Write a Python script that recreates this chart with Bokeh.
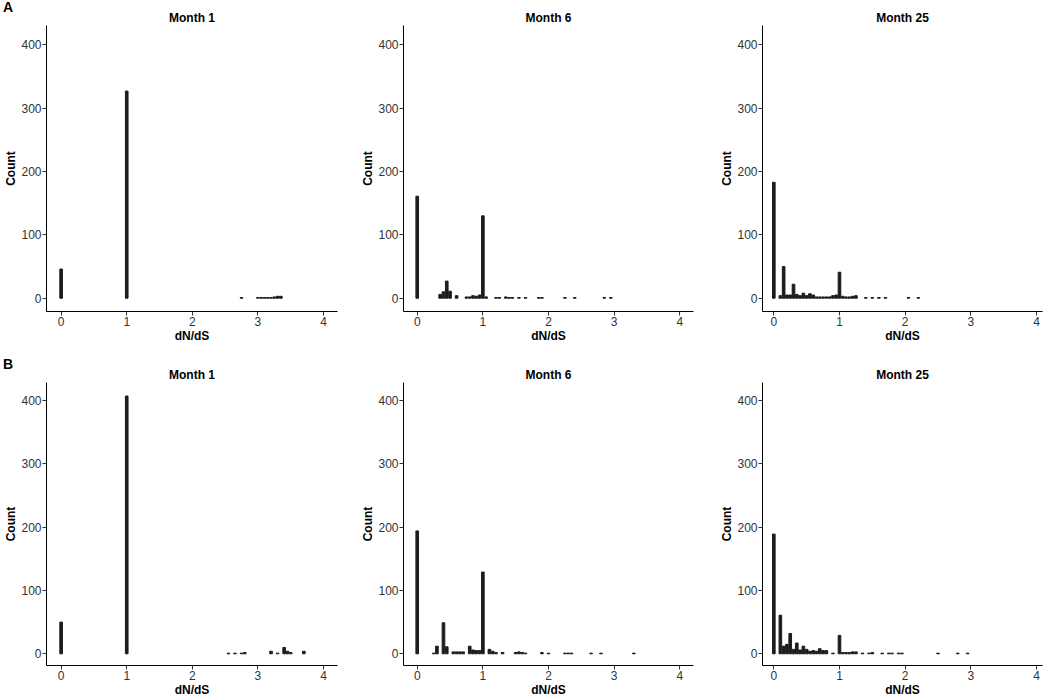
from bokeh.plotting import figure
from bokeh.layouts import column, row
from bokeh.models import Range1d, FixedTicker, Title, Div
from bokeh.embed import file_html
from bokeh.resources import INLINE

# ---------------- data (dN/dS histogram, binwidth 0.05) ----------------
titles = ["Month 1", "Month 6", "Month 25"]
row_tags = ["A", "B"]
x_ticks = [0, 1, 2, 3, 4]
y_ticks = [0, 100, 200, 300, 400]
bin_width = 0.05

a_m1_x = [0.0, 1.0, 2.75, 3.0, 3.05, 3.1, 3.15, 3.2, 3.25, 3.3, 3.35]
a_m1_n = [46, 327, 1, 1, 1, 1, 1, 1, 2, 3, 3]

a_m6_x = [0.0, 0.35, 0.4, 0.45, 0.5, 0.6, 0.75, 0.8, 0.85, 0.9, 0.95, 1.0, 1.05,
          1.2, 1.25, 1.35, 1.4, 1.45, 1.55, 1.65, 1.85, 1.9, 2.25, 2.4, 2.85, 2.95]
a_m6_n = [161, 6, 10, 27, 11, 4, 2, 2, 4, 3, 5, 130, 2,
          1, 1, 2, 1, 1, 1, 1, 1, 1, 1, 1, 1, 1]

a_m25_x = [0.0, 0.1, 0.15, 0.2, 0.25, 0.3, 0.35, 0.4, 0.45, 0.5, 0.55, 0.6, 0.65,
           0.7, 0.75, 0.8, 0.85, 0.9, 0.95, 1.0, 1.05, 1.1, 1.15, 1.2, 1.25,
           1.4, 1.5, 1.6, 1.7, 2.05, 2.2]
a_m25_n = [183, 4, 50, 5, 5, 22, 6, 4, 8, 4, 7, 5, 2,
           2, 2, 2, 2, 4, 5, 41, 3, 2, 2, 3, 4,
           1, 1, 1, 1, 1, 1]

b_m1_x = [0.0, 1.0, 2.55, 2.65, 2.75, 2.8, 3.2, 3.3, 3.4, 3.45, 3.5, 3.7]
b_m1_n = [50, 407, 1, 1, 1, 2, 4, 1, 10, 4, 2, 4]

b_m6_x = [0.0, 0.25, 0.3, 0.4, 0.45, 0.55, 0.6, 0.65, 0.7, 0.8, 0.85, 0.9, 0.95,
          1.0, 1.1, 1.15, 1.2, 1.3, 1.5, 1.55, 1.6, 1.65, 1.9, 2.0, 2.25, 2.3,
          2.35, 2.65, 2.8, 3.3]
b_m6_n = [194, 1, 12, 49, 11, 3, 3, 3, 3, 12, 6, 5, 5,
          129, 7, 4, 2, 2, 2, 3, 2, 1, 2, 1, 1, 1,
          1, 1, 1, 1]

b_m25_x = [0.0, 0.1, 0.15, 0.2, 0.25, 0.3, 0.35, 0.4, 0.45, 0.5, 0.55, 0.6, 0.65,
           0.7, 0.75, 0.8, 0.9, 1.0, 1.05, 1.1, 1.15, 1.2, 1.25, 1.35, 1.45,
           1.5, 1.65, 1.75, 1.8, 1.9, 1.95, 2.5, 2.8, 2.95]
b_m25_n = [189, 61, 12, 15, 32, 7, 17, 6, 12, 7, 4, 5, 4,
           8, 5, 5, 1, 29, 2, 2, 2, 3, 3, 1, 1,
           2, 1, 1, 1, 1, 1, 1, 1, 1]

panels = [
    [(a_m1_x, a_m1_n), (a_m6_x, a_m6_n), (a_m25_x, a_m25_n)],
    [(b_m1_x, b_m1_n), (b_m6_x, b_m6_n), (b_m25_x, b_m25_n)],
]

# ---------------- geometry / style ----------------
FONT = "Liberation Sans"
BORDER_L = 46
frame_w = [291, 290, 280]
border_r = [20, 23, 8]
x_lo = [-0.223, -0.209, -0.172]
x_hi = [4.213, 4.209, 4.09]
frame_h = [286, 283]
border_t = [25, 25]
border_b = [46, 35]
y_lo = [-21.0, -18.5]
y_hi = [430.5, 428.4]
BAR = "#1c1c1c"


def make_panel(r, c):
    xs, ns = panels[r][c]
    p = figure(frame_width=frame_w[c], frame_height=frame_h[r],
               x_range=Range1d(x_lo[c], x_hi[c]), y_range=Range1d(y_lo[r], y_hi[r]),
               output_backend="svg", toolbar_location=None,
               min_border_left=BORDER_L, min_border_right=border_r[c],
               min_border_top=border_t[r], min_border_bottom=border_b[r])
    p.outline_line_color = None
    p.border_fill_color = None
    p.xgrid.visible = False
    p.ygrid.visible = False
    p.vbar(x=xs, top=ns, bottom=0, width=bin_width * 0.8,
           fill_color=BAR, line_color=BAR, line_width=1)
    for ax in (p.xaxis[0], p.yaxis[0]):
        ax.axis_line_color = "#000000"
        ax.axis_line_width = 1
        ax.major_tick_line_color = "#333333"
        ax.major_tick_out = 4
        ax.major_tick_in = 0
        ax.minor_tick_line_color = None
        ax.major_label_text_font = FONT
        ax.major_label_text_font_size = "12px"
        ax.major_label_text_color = "#333333"
        ax.major_label_standoff = 1
        ax.axis_label_text_font = FONT
        ax.axis_label_text_font_size = "12px"
        ax.axis_label_text_font_style = "bold"
        ax.axis_label_text_color = "#000000"
        ax.axis_label_standoff = 0
    p.xaxis.ticker = FixedTicker(ticks=x_ticks)
    p.yaxis.ticker = FixedTicker(ticks=y_ticks)
    p.xaxis.axis_label = "dN/dS"
    p.yaxis.axis_label = "Count"
    p.add_layout(Title(text=titles[c], align="center", text_font=FONT,
                       text_font_size="12px", text_font_style="bold",
                       text_color="#000000", standoff=2), "above")
    return p


def tag_div(t):
    return Div(text=t, width=20, height=14, margin=(0, 0, -14, 3),
               styles={"font-family": FONT, "font-size": "14px",
                       "font-weight": "bold", "color": "#000000",
                       "line-height": "14px"})


items = []
for r in range(2):
    items.append(tag_div(row_tags[r]))
    items.append(row(*[make_panel(r, c) for c in range(3)], spacing=0))
layout = column(*items, spacing=0)

open("out.html", "w").write(file_html(layout, INLINE))
